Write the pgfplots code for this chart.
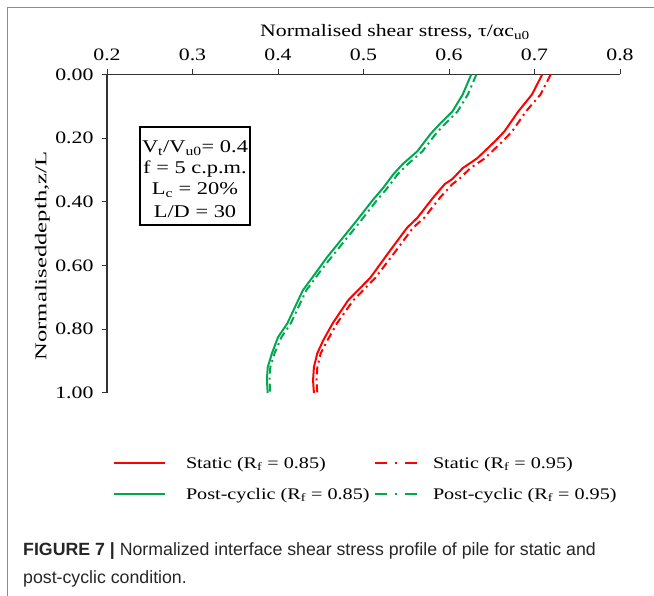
\documentclass[border=0pt]{standalone}
\usepackage{fontspec}
\setmainfont{Liberation Serif}[FakeStretch=1.25]
\newfontfamily\ylabfont{Liberation Serif}[FakeStretch=1.5]
\newfontfamily\capfont{Liberation Sans}
\usepackage{pgfplots}
\pgfplotsset{compat=1.18}
\definecolor{myred}{RGB}{255,0,0}
\definecolor{mygreen}{RGB}{0,168,80}
\pgfplotsset{
  legimgA/.style={legend image code/.code={\draw[##1] (0bp,0bp) -- (51bp,0bp);}},
  legimgB/.style={legend image code/.code={\draw[##1, dash pattern=on 12bp off 8bp on 2bp off 8bp] (0bp,0bp) -- (44bp,0bp);}},
  dd/.style={dash pattern=on 8bp off 4bp on 2bp off 4bp},
}
\begin{document}
\begin{tikzpicture}[x=1bp,y=1bp]
\useasboundingbox (0,0) rectangle (654,596);
\draw[black!45, line width=1.5bp] (7.5,0) -- (7.5,588.5) -- (654,588.5);
\begin{axis}[
  at={(107bp,203bp)}, anchor=south west,
  scale only axis, width=513bp, height=318.5bp,
  xmin=0.2, xmax=0.8, ymin=0, ymax=1, y dir=reverse,
  axis x line=top, axis y line=left,
  axis line style={-, black!80, line width=1.1bp},
  xtick={0.2,0.3,0.4,0.5,0.6,0.7,0.8},
  ytick={0,0.2,0.4,0.6,0.8,1},
  tick align=outside, major tick length=5bp,
  tick style={black!80, line width=1bp},
  /pgf/number format/assume math mode=true,
  tick label style={font=\fontsize{17.5}{20}\selectfont},
  x tick label style={yshift=5bp, /pgf/number format/.cd, fixed, fixed zerofill, precision=1, /tikz/.cd},
  y tick label style={xshift=-5bp, /pgf/number format/.cd, fixed, fixed zerofill, precision=2, /tikz/.cd},
  clip=false,
  legend columns=2,
  legend cell align=left,
  legend style={draw=none, fill=none, inner sep=0pt, outer sep=0pt,
    at={(axis description cs:0.0117,-0.195)}, anchor=north west,
    row sep=14bp, font=\fontsize{16.2}{19}\selectfont,
    nodes={inner xsep=0pt, inner ysep=2bp},
    /tikz/column 1/.style={column sep=20bp},
    /tikz/column 2/.style={column sep=0bp},
    /tikz/column 3/.style={column sep=13bp}},
]
\addplot[myred, line width=2bp, legimgA] table {
0.709 0.000
0.697 0.063
0.681 0.116
0.665 0.178
0.654 0.209
0.633 0.263
0.616 0.294
0.604 0.328
0.595 0.344
0.581 0.388
0.563 0.450
0.551 0.481
0.531 0.553
0.508 0.638
0.482 0.709
0.464 0.781
0.453 0.834
0.446 0.875
0.442 0.919
0.441 0.960
0.442 1.000
};
\addlegendentry{\makebox[188bp][l]{Static (R\textsubscript{f} = 0.85)}}
\addplot[myred, line width=2bp, dd, legimgB] table {
0.719 0.000
0.707 0.063
0.690 0.116
0.674 0.178
0.663 0.209
0.642 0.263
0.625 0.294
0.612 0.328
0.604 0.344
0.589 0.388
0.571 0.450
0.558 0.481
0.538 0.553
0.514 0.638
0.488 0.709
0.469 0.781
0.458 0.834
0.450 0.875
0.446 0.919
0.445 0.960
0.446 1.000
};
\addlegendentry{Static (R\textsubscript{f} = 0.95)}
\addplot[mygreen, line width=2bp, legimgA] table {
0.626 0.000
0.616 0.063
0.604 0.116
0.589 0.156
0.578 0.188
0.563 0.241
0.546 0.281
0.535 0.313
0.523 0.356
0.510 0.397
0.492 0.459
0.473 0.522
0.457 0.575
0.446 0.616
0.429 0.678
0.418 0.741
0.411 0.781
0.400 0.825
0.393 0.875
0.388 0.919
0.387 0.959
0.388 1.000
};
\addlegendentry{\makebox[188bp][l]{Post-cyclic (R\textsubscript{f} = 0.85)}}
\addplot[mygreen, line width=2bp, dd, legimgB] table {
0.632 0.000
0.622 0.063
0.610 0.116
0.595 0.156
0.584 0.188
0.569 0.241
0.552 0.281
0.540 0.313
0.528 0.356
0.515 0.397
0.497 0.459
0.478 0.522
0.462 0.575
0.450 0.616
0.433 0.678
0.422 0.741
0.415 0.781
0.404 0.825
0.396 0.875
0.391 0.919
0.390 0.959
0.391 1.000
};
\addlegendentry{Post-cyclic (R\textsubscript{f} = 0.95)}
\end{axis}
\node[font=\fontsize{17.5}{20}\selectfont] at (395,564) {Normalised shear stress, τ/αc\textsubscript{u0}};
\node[font=\ylabfont\fontsize{16.5}{19}\selectfont, rotate=90] at (42.5,340) {Normaliseddepth,z/L};
\draw[black, line width=1.3bp] (140,469) rectangle (250,371);
\begin{scope}[every node/.style={font=\fontsize{18}{20}\selectfont, inner sep=0pt}]
\node at (195,448) {V\textsubscript{t}/V\textsubscript{u0}= 0.4};
\node at (195,427) {f = 5 c.p.m.};
\node at (195,406) {L\textsubscript{c} = 20\%};
\node at (195,384) {L/D = 30};
\end{scope}
\begin{scope}[every node/.style={anchor=base west, inner sep=0pt, text=black!85, font=\capfont\fontsize{17.8}{20}\selectfont}]
\node at (23,40) {\textbf{FIGURE 7 |} Normalized interface shear stress profile of pile for static and};
\node at (23,12) {post-cyclic condition.};
\end{scope}
\end{tikzpicture}
\end{document}
